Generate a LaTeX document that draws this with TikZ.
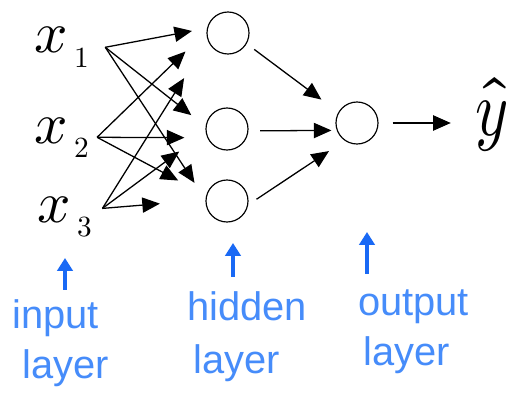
\documentclass[tikz,border=0pt]{standalone}
\usepackage{fontspec}
\usepackage{unicode-math}
\setmathfont{Latin Modern Math}
\usepackage{graphicx}
\setsansfont{Liberation Sans}
\usetikzlibrary{arrows.meta}
\definecolor{penblue}{RGB}{25,105,245}
\definecolor{inkblue}{RGB}{70,140,250}
\begin{document}
\begin{tikzpicture}[x=0.03cm,y=-0.03cm,
  neuron/.style={circle,draw,line width=1pt,minimum size=1.26cm,inner sep=0pt},
  xlab/.style={inner sep=0pt,anchor=base west,font=\fontsize{50}{56}\selectfont},
  edge/.style={line width=1.1pt,-{Triangle[length=15pt,width=13pt]}},
  bluearr/.style={draw=penblue,line width=3pt,-{Triangle[length=11pt,width=13pt]}},
  lab/.style={text=inkblue,inner sep=0pt,anchor=base west,font=\sffamily\fontsize{34}{40}\selectfont}]
\useasboundingbox (0,0) rectangle (508,398);
\fill[white] (0,0) rectangle (508,398);
% input labels
\node[xlab] (x1) at (34,53) {$x_{\,\scriptscriptstyle 1}$};
\node[xlab] (x2) at (34,143) {$x_{\,\scriptscriptstyle 2}$};
\node[xlab] (x3) at (37,222) {$x_{\,\scriptscriptstyle 3}$};
% neurons
\node[neuron] (h1) at (228,33) {};
\node[neuron] (h2) at (227,129) {};
\node[neuron] (h3) at (227,201) {};
\node[neuron] (out) at (357,123) {};
\node[inner sep=0pt] (yh) at (492,115) {\scalebox{1}[1.25]{\fontsize{54}{60}\selectfont$\hat{y}$}};
% start points
\coordinate (s1) at ([xshift=13pt]x1.east);
\coordinate (s2) at ([xshift=6pt]x2.east);
\coordinate (s3) at ([xshift=8pt,yshift=7pt]x3.east);
% input -> hidden
\draw[edge,shorten >=13pt] (s1) -- (h1.167);
\draw[edge,shorten >=25pt] (s2) -- (h1.175);
\draw[edge,shorten >=38pt] (s3) -- (h1.200);
\draw[edge,shorten >=15.5pt] (s1) -- (h2.173);
\draw[edge,shorten >=19.5pt] (s2) -- (h2.204);
\draw[edge,shorten >=28pt] (s3) -- (h2.188);
\draw[edge,shorten >=17pt] (s1) -- (h3.176);
\draw[edge,shorten >=27pt] (s2) -- (h3.165);
\draw[edge,shorten >=39pt] (s3) -- (h3.177);
% hidden -> output
\draw[edge,shorten <=8pt,shorten >=18pt] (h1.330) -- (out.150);
\draw[edge,shorten <=10pt,shorten >=4.5pt] (h2.355) -- (out.200);
\draw[edge,shorten <=8.5pt,shorten >=16pt] (h3.350) -- (out.235);
\draw[edge,shorten <=12pt,shorten >=21pt] (out.east) -- (out.east -| yh.west);
% layer labels
\node[lab] (in1) at (12,328) {input};
\node[lab] (in2) at (22,378) {layer};
\node[lab] (hid1) at (187,320) {hidden};
\node[lab] (hid2) at (193,373) {layer};
\node[lab] (out1) at (358,315) {output};
\node[lab] (out2) at (363,365) {layer};
\coordinate (ain) at (65,258);
\coordinate (ahid) at (233,243);
\coordinate (aout) at (367,232);
\draw[bluearr,shorten <=8pt] (in1.north -| ain) -- (ain);
\draw[bluearr,shorten <=12pt] (hid1.north -| ahid) -- (ahid);
\draw[bluearr,shorten <=13pt] (out1.north -| aout) -- (aout);
\end{tikzpicture}
\end{document}
